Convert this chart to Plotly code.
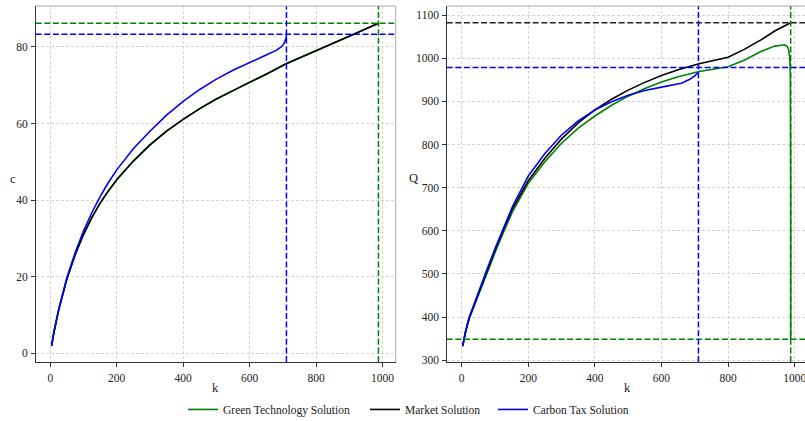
import plotly.graph_objects as go

# ---------------- data ----------------
# Left panel: consumption c vs capital k
k_c_green = [4, 10, 25, 50, 75, 100, 125, 150, 175, 200, 250, 300, 350, 400, 450, 500, 550, 600, 650, 710, 800, 900, 988]
c_green = [1.9, 5.0, 11.2, 19.4, 25.8, 31.0, 35.4, 39.2, 42.4, 45.3, 50.2, 54.4, 58.0, 61.1, 63.9, 66.4, 68.6, 70.7, 72.9, 75.6, 79.1, 82.8, 86.2]
k_c_market = [4, 10, 25, 50, 75, 100, 125, 150, 175, 200, 250, 300, 350, 400, 450, 500, 550, 600, 650, 710, 800, 900, 988]
c_market = [1.9, 5.0, 11.2, 19.4, 25.8, 31.0, 35.4, 39.2, 42.4, 45.3, 50.2, 54.4, 58.0, 61.1, 63.9, 66.4, 68.6, 70.7, 72.9, 75.6, 79.1, 82.8, 86.2]
k_c_tax = [4, 10, 25, 50, 75, 100, 125, 150, 175, 200, 250, 300, 350, 400, 450, 500, 550, 600, 650, 680, 695, 703, 707, 710, 711]
c_tax = [1.9, 5.2, 11.4, 19.7, 26.3, 31.9, 36.7, 40.9, 44.6, 47.9, 53.4, 58.0, 62.2, 65.8, 68.9, 71.6, 73.9, 76.0, 77.9, 79.1, 80.0, 80.8, 81.5, 82.3, 83.3]

# Right panel: Q vs capital k
k_q_green = [3, 11, 23, 53, 78, 103, 128, 153, 200, 250, 300, 350, 400, 450, 500, 550, 600, 650, 713, 760, 800, 850, 900, 940, 960, 970, 978, 982, 985, 987, 988, 988]
q_green = [333, 364, 397, 457, 507, 555, 601, 645, 710, 760, 803, 838, 866, 891, 912, 930, 945, 957, 969, 975, 980, 996, 1016, 1028, 1031, 1031, 1027, 1019, 1003, 965, 700, 349]
k_q_market = [3, 11, 23, 53, 78, 103, 128, 153, 200, 250, 300, 350, 400, 450, 500, 550, 600, 650, 713, 760, 800, 850, 900, 940, 988]
q_market = [333, 365, 399, 461, 512, 561, 607, 652, 716, 768, 813, 850, 880, 905, 926, 944, 960, 973, 987, 995, 1002, 1021, 1043, 1063, 1082]
k_q_tax = [3, 8, 11, 17, 23, 38, 53, 78, 103, 128, 153, 200, 250, 300, 350, 400, 450, 500, 550, 600, 630, 660, 685, 700, 710]
q_tax = [333, 355, 366, 385, 400, 432, 463, 515, 564, 612, 657, 727, 779, 822, 855, 880, 899, 914, 925, 933, 937, 942, 951, 959, 967]

# steady-state reference lines
c_ss_green = 86.2
c_ss_tax = 83.3
k_ss_green = 988
k_ss_tax = 711
q_ss_market = 1082
q_ss_tax = 978.6
q_ss_green = 349

x_ticks = [0, 200, 400, 600, 800, 1000]
c_ticks = [0, 20, 40, 60, 80]
q_ticks = [300, 400, 500, 600, 700, 800, 900, 1000, 1100]

GREEN = "#008000"
BLACK = "#000000"
BLUE = "#0000ff"
FONT = "Liberation Serif"

fig = go.Figure()

def add_line(x, y, color, name, xa, ya, show, leg):
    fig.add_trace(go.Scatter(x=x, y=y, mode="lines", name=name, legendgroup=name,
                             showlegend=show, legend=leg, line=dict(color=color, width=1.6),
                             xaxis=xa, yaxis=ya))

add_line(k_c_green, c_green, GREEN, "Green Technology Solution", "x", "y", True, "legend")
add_line(k_c_market, c_market, BLACK, "Market Solution", "x", "y", True, "legend2")
add_line(k_c_tax, c_tax, BLUE, "Carbon Tax Solution", "x", "y", True, "legend3")
add_line(k_q_green, q_green, GREEN, "Green Technology Solution", "x2", "y2", False, "legend")
add_line(k_q_market, q_market, BLACK, "Market Solution", "x2", "y2", False, "legend2")
add_line(k_q_tax, q_tax, BLUE, "Carbon Tax Solution", "x2", "y2", False, "legend3")

DASH = "6px,2.6px"

def hline(y, color, xr, yr):
    fig.add_shape(type="line", xref=xr + " domain", yref=yr, x0=0, x1=1, y0=y, y1=y,
                  line=dict(color=color, width=1.5, dash=DASH))

def vline(x, color, xr, yr):
    fig.add_shape(type="line", xref=xr, yref=yr + " domain", x0=x, x1=x, y0=0, y1=1,
                  line=dict(color=color, width=1.5, dash=DASH))

hline(c_ss_green, GREEN, "x", "y")
hline(c_ss_tax, BLUE, "x", "y")
vline(k_ss_tax, BLUE, "x", "y")
vline(k_ss_green, GREEN, "x", "y")
hline(q_ss_market, "#222222", "x2", "y2")
hline(q_ss_tax, BLUE, "x2", "y2")
hline(q_ss_green, GREEN, "x2", "y2")
vline(k_ss_tax, BLUE, "x2", "y2")
vline(k_ss_green, GREEN, "x2", "y2")

# light top/right frame
FRAME = "#aaaaaa"
fig.add_shape(type="line", xref="x domain", yref="y domain", x0=0, x1=1, y0=1, y1=1,
              line=dict(color=FRAME, width=1))
fig.add_shape(type="line", xref="x domain", yref="y domain", x0=1, x1=1, y0=0, y1=1,
              line=dict(color=FRAME, width=1))
fig.add_shape(type="line", xref="x2 domain", yref="y2 domain", x0=0, x1=1, y0=1, y1=1,
              line=dict(color=FRAME, width=1))

axis_common = dict(showgrid=True, gridcolor="#d4d4d4", griddash="3px,2px", gridwidth=0.8,
                   zeroline=False, showline=True, linecolor="#333333", linewidth=1,
                   ticks="outside", ticklen=3.5, tickcolor="#333333", tickwidth=1,
                   ticklabeloverflow="allow",
                   tickfont=dict(family=FONT, size=11.5, color="#222222"))
xaxis_extra = dict(ticklabelstandoff=2)
yaxis_extra = dict(ticklabelstandoff=1)

ydom = [0.1401, 0.9857]
leg_common = dict(orientation="h", xanchor="left", y=-0.007, yanchor="bottom",
                  font=dict(family=FONT, size=11.5, color="#222222"), itemwidth=30,
                  bgcolor="rgba(0,0,0,0)", borderwidth=0)
fig.update_layout(
    width=805, height=421,
    margin=dict(l=0, r=0, t=0, b=0, autoexpand=False),
    paper_bgcolor="white", plot_bgcolor="white",
    font=dict(family=FONT, size=11, color="#222222"),
    xaxis=dict(domain=[0.0443, 0.4916], range=[-44, 1040], tickvals=x_ticks, anchor="y", **axis_common, **xaxis_extra),
    yaxis=dict(domain=ydom, range=[-2.3, 90.7], tickvals=c_ticks, anchor="x", **axis_common, **yaxis_extra),
    xaxis2=dict(domain=[0.5549, 1.0], range=[-45, 1031], tickvals=x_ticks, anchor="y2", **axis_common, **xaxis_extra),
    yaxis2=dict(domain=ydom, range=[296, 1120.9], tickvals=q_ticks, anchor="x2", **axis_common, **yaxis_extra),
    legend=dict(x=183 / 805, **leg_common),
    legend2=dict(x=365 / 805, **leg_common),
    legend3=dict(x=493 / 805, **leg_common),
    showlegend=True,
)

def label(text, x, y):
    fig.add_annotation(text=text, x=x / 805, y=1 - y / 421, xref="paper", yref="paper",
                       showarrow=False, font=dict(family=FONT, size=12.5, color="#222222"),
                       xanchor="center", yanchor="middle")

label("c", 13, 179)
label("k", 216, 388)
label("Q", 413, 178)
label("k", 627, 388)

fig.write_html("out.html")
